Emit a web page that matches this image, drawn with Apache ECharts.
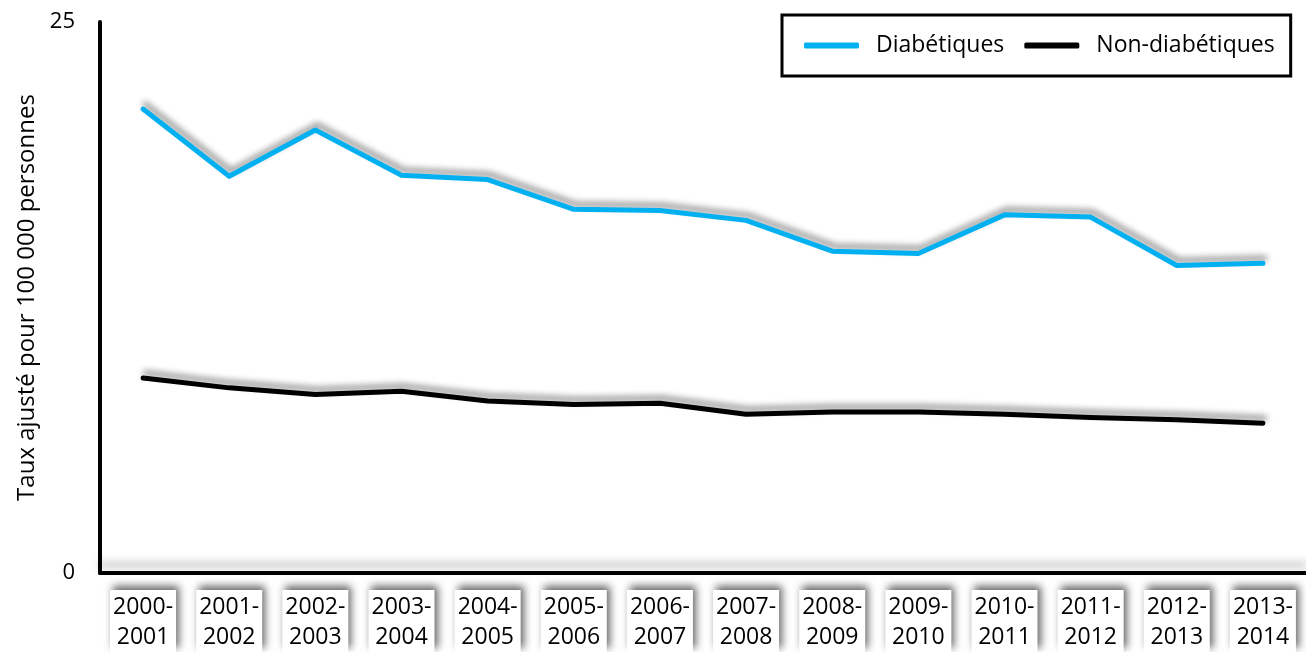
<!DOCTYPE html>
<html>
<head>
<meta charset="utf-8">
<script src="https://cdn.jsdelivr.net/npm/echarts@6/dist/echarts.min.js"></script>
<style>html,body{margin:0;padding:0;background:#fff}#c{width:1306px;height:652px}</style>
</head>
<body>
<div id="c"></div>
<script>
const categories = ['2000-\n2001','2001-\n2002','2002-\n2003','2003-\n2004','2004-\n2005','2005-\n2006','2006-\n2007','2007-\n2008','2008-\n2009','2009-\n2010','2010-\n2011','2011-\n2012','2012-\n2013','2013-\n2014'];
const diabetiques = [21.05, 18.0, 20.1, 18.05, 17.85, 16.5, 16.45, 16.0, 14.6, 14.5, 16.25, 16.15, 13.95, 14.05];
const nonDiabetiques = [8.85, 8.4, 8.1, 8.25, 7.8, 7.65, 7.7, 7.2, 7.3, 7.3, 7.2, 7.05, 6.95, 6.8];
const seriesNames = ['Diabétiques', 'Non-diabétiques'];
const yTitle = 'Taux ajusté pour 100 000 personnes';

const font = 'Open Sans';
const chart = echarts.init(document.getElementById('c'));
const lineShadow = {shadowColor:'rgba(0,0,0,0.45)', shadowBlur:6, shadowOffsetX:2, shadowOffsetY:-5};
chart.setOption({
  animation:false,
  textStyle:{fontFamily:font},
  grid:{left:100, right:0, top:22, bottom:77},
  legend:{
    left:782, top:15,
    padding:[19,16,19,22],
    borderColor:'#000', borderWidth:3,
    itemWidth:55, itemHeight:6, itemGap:20,
    icon:'roundRect',
    textStyle:{fontFamily:font, fontSize:23, color:'#000', padding:[0,0,0,12]},
    data:seriesNames
  },
  xAxis:{
    type:'category', data:categories, boundaryGap:true,
    axisLine:{lineStyle:{color:'#000', width:4, shadowColor:'rgba(0,0,0,0.35)', shadowBlur:10, shadowOffsetY:-8}},
    axisTick:{show:false},
    axisLabel:{
      interval:0, margin:17, fontFamily:font, fontSize:23, color:'#000', lineHeight:30,
      backgroundColor:'#fff', padding:[2,3,0,3], align:'center',
      shadowColor:'rgba(0,0,0,0.6)', shadowBlur:8, shadowOffsetX:3, shadowOffsetY:-4
    }
  },
  yAxis:{
    type:'value', min:0, max:25, interval:25,
    name:yTitle, nameLocation:'middle', nameGap:59, nameRotate:90,
    nameTextStyle:{fontFamily:font, fontSize:24, color:'#000'},
    axisLine:{show:true, lineStyle:{color:'#000', width:4}},
    axisTick:{show:false},
    splitLine:{show:false},
    axisLabel:{margin:25, fontFamily:font, fontSize:22, color:'#000'}
  },
  series:[
    {name:seriesNames[0], type:'line', data:diabetiques, symbol:'none',
     itemStyle:{color:'#00B0F0'},
     lineStyle:Object.assign({color:'#00B0F0', width:5, cap:'round', join:'round'}, lineShadow)},
    {name:seriesNames[1], type:'line', data:nonDiabetiques, symbol:'none',
     itemStyle:{color:'#000'},
     lineStyle:Object.assign({color:'#000', width:5, cap:'round', join:'round'}, lineShadow)}
  ]
});
</script>
</body>
</html>
